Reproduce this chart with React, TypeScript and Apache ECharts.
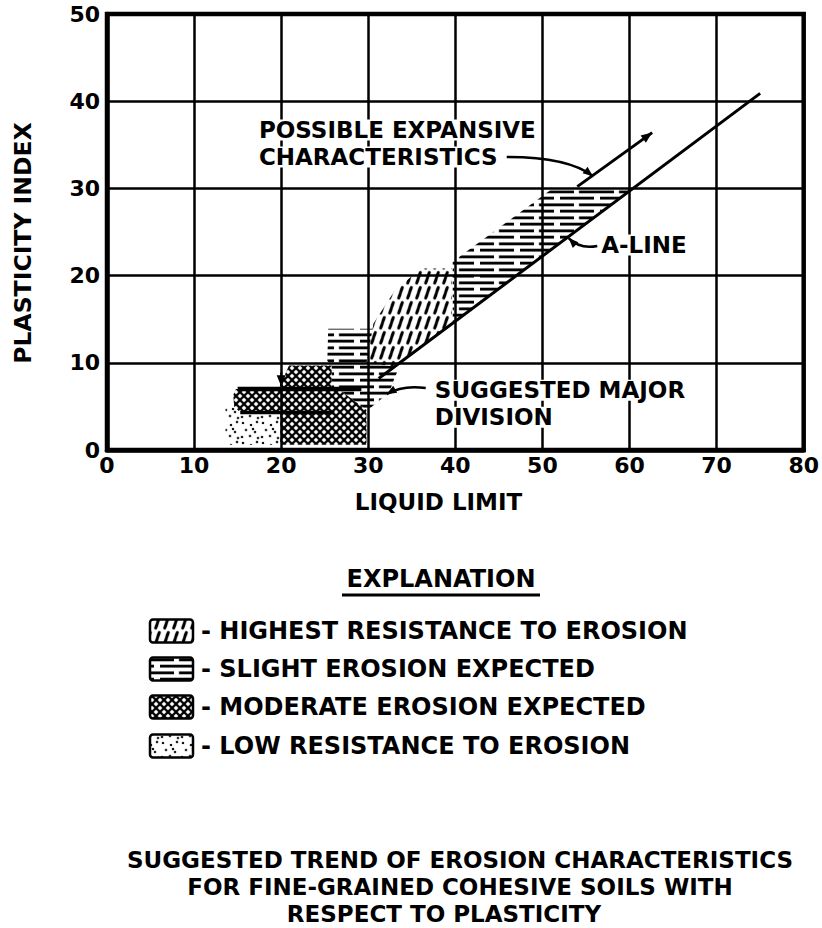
import React, { useEffect, useRef } from "react";
import * as echarts from "echarts";

type Pt = [number, number];

// ---- axes ----
const liquidLimitTicks = [0, 10, 20, 30, 40, 50, 60, 70, 80];
const plasticityIndexTicks = [0, 10, 20, 30, 40, 50];

// ---- erosion regions (Liquid Limit, Plasticity Index) ----
const highestResistanceArea: Pt[] = [[29.8, 10.0], [32.8, 9.6], [39.6, 14.5], [39.6, 20.8], [36.0, 20.8], [33.0, 18.2], [30.6, 14.5]];
const slightErosionUpperArea: Pt[] = [[39.7, 14.5], [39.7, 21.6], [50.9, 29.8], [60.0, 29.8]];
const slightErosionLowerArea: Pt[] = [[25.4, 13.9], [30.5, 13.9], [29.8, 10.0], [32.8, 9.6], [33.6, 9.6], [33.0, 8.2], [32.4, 6.6], [30.2, 4.8], [29.8, 4.6], [26.6, 7.0], [25.8, 7.0], [25.8, 9.7], [25.3, 10.2]];
const moderateErosionArea: Pt[] = [[14.8, 7.0], [19.7, 7.0], [20.9, 9.7], [25.8, 9.7], [25.8, 7.0], [26.6, 7.0], [29.8, 4.6], [29.8, 0.6], [19.9, 0.6], [19.9, 4.3], [15.3, 4.3], [14.6, 5.0], [14.5, 6.3]];
const lowResistanceArea: Pt[] = [[13.6, 0.6], [13.6, 4.9], [14.6, 5.0], [15.3, 4.3], [19.9, 4.3], [19.9, 0.6]];

// ---- lines ----
const aLine: Pt[] = [[31.2, 8.2], [75.0, 40.9]];
const expansiveTrend: Pt[] = [[54.0, 30.2], [62.6, 36.4]];
const majorDivisionUpper: Pt[] = [[15.0, 7.0], [29.2, 7.0]];
const majorDivisionLower: Pt[] = [[15.3, 4.3], [26.1, 4.3]];
const divisionPointer: Pt[] = [[20.0, 8.9], [20.0, 7.3]];

// ---- leaders: start, control, tip ----
const expansiveLeader: Pt[] = [[45.9, 33.6], [53.0, 33.6], [55.8, 31.4]];
const aLineLeader: Pt[] = [[56.3, 23.4], [54.3, 23.0], [53.0, 24.3]];
const divisionLeader: Pt[] = [[36.6, 7.1], [34.0, 7.5], [32.1, 6.4]];

// ---- annotation texts ----
const annotationTexts: { text: string; at: Pt }[] = [
  { text: "POSSIBLE EXPANSIVE", at: [17.1, 36.7] },
  { text: "CHARACTERISTICS", at: [17.1, 33.6] },
  { text: "A-LINE", at: [56.4, 23.5] },
  { text: "SUGGESTED MAJOR", at: [37.3, 6.85] },
  { text: "DIVISION", at: [37.3, 3.75] },
];

// ---- explanation / title ----
const legendLabels = [
  "HIGHEST RESISTANCE TO EROSION",
  "SLIGHT EROSION EXPECTED",
  "MODERATE EROSION EXPECTED",
  "LOW RESISTANCE TO EROSION",
];
const legendPatternKeys = ["highest", "slight", "moderate", "low"];
const titleLines = [
  "SUGGESTED TREND OF EROSION CHARACTERISTICS",
  "FOR FINE-GRAINED COHESIVE SOILS WITH",
  "RESPECT TO PLASTICITY",
];

const FONT = "'DejaVu Sans', 'Liberation Sans', sans-serif";

function makePatterns() {
  const tile = (w: number, h: number, draw: (ctx: CanvasRenderingContext2D) => void) => {
    const s = 3;
    const c = document.createElement("canvas");
    c.width = w * s;
    c.height = h * s;
    const ctx = c.getContext("2d")!;
    ctx.scale(s, s);
    ctx.strokeStyle = "#000";
    ctx.fillStyle = "#000";
    draw(ctx);
    return { image: c.toDataURL(), repeat: "repeat", imageWidth: w, imageHeight: h };
  };
  const seg = (ctx: CanvasRenderingContext2D, a: number, b: number, c: number, d: number) => {
    ctx.beginPath();
    ctx.moveTo(a, b);
    ctx.lineTo(c, d);
    ctx.stroke();
  };
  return {
    highest: tile(9, 15, (ctx) => {
      ctx.lineWidth = 2.9;
      ctx.lineCap = "round";
      seg(ctx, 2.8, 13.0, 6.2, 2.6);
    }),
    slight: tile(40, 13, (ctx) => {
      ctx.lineWidth = 2.6;
      seg(ctx, 0, 3.25, 34, 3.25);
      seg(ctx, 0, 9.75, 14, 9.75);
      seg(ctx, 19, 9.75, 40, 9.75);
    }),
    moderate: tile(8, 8, (ctx) => {
      ctx.lineWidth = 2.3;
      for (const dx of [-8, 0, 8]) {
        seg(ctx, dx, 0, dx + 8, 8);
        seg(ctx, dx + 8, 0, dx, 8);
      }
    }),
    low: tile(20, 20, (ctx) => {
      const dots = [[3, 3], [11, 5], [17, 2], [6, 10], [15, 12], [2, 17], [10, 16], [18, 18], [13, 9]];
      for (const [x, y] of dots) {
        ctx.beginPath();
        ctx.arc(x, y, 1.2, 0, Math.PI * 2);
        ctx.fill();
      }
    }),
  } as Record<string, any>;
}

function arrowHead(tip: number[], from: number[], len: number, half: number) {
  const dx = tip[0] - from[0];
  const dy = tip[1] - from[1];
  const l = Math.hypot(dx, dy) || 1;
  const ux = dx / l;
  const uy = dy / l;
  const bx = tip[0] - ux * len;
  const by = tip[1] - uy * len;
  return [
    [tip[0], tip[1]],
    [bx - uy * half, by + ux * half],
    [bx + uy * half, by - ux * half],
  ];
}

export default function App() {
  const ref = useRef<HTMLDivElement>(null);

  useEffect(() => {
    document.body.style.margin = "0";
    if (!ref.current) return;
    const chart = echarts.init(ref.current, null, { renderer: "svg" });
    const patterns = makePatterns();

    const regions = [
      { key: "highest", points: highestResistanceArea },
      { key: "slight", points: slightErosionUpperArea },
      { key: "slight", points: slightErosionLowerArea },
      { key: "moderate", points: moderateErosionArea },
      { key: "low", points: lowResistanceArea },
    ];
    const lineSpecs = [
      { points: aLine, width: 3, arrow: false },
      { points: expansiveTrend, width: 3, arrow: true },
      { points: majorDivisionUpper, width: 4.5, arrow: false },
      { points: majorDivisionLower, width: 3.5, arrow: false },
      { points: divisionPointer, width: 2, arrow: true },
    ];
    const leaders = [expansiveLeader, aLineLeader, divisionLeader];

    const legendRowY = [631, 669, 707, 746];
    const titleX = [460, 460, 444];
    const titleY = [860, 887, 914];

    const txt = (text: string, x: number, y: number, size: number, align: string, extra: any = {}) => ({
      type: "text",
      x,
      y,
      ...extra,
      style: {
        text,
        font: `bold ${size}px ${FONT}`,
        fill: "#000",
        align,
        verticalAlign: "middle",
        textAlign: align,
        textVerticalAlign: "middle",
        lineHeight: 20,
      },
    });

    const graphic: any[] = [
      txt("PLASTICITY INDEX", 22.5, 243, 23.5, "center", { rotation: Math.PI / 2 }),
      txt("LIQUID LIMIT", 438.5, 502, 23, "center"),
      txt("EXPLANATION", 441, 579, 24, "center"),
      { type: "line", shape: { x1: 342, y1: 595, x2: 540, y2: 595 }, style: { stroke: "#000", lineWidth: 3 } },
    ];
    legendLabels.forEach((label, i) => {
      const cy = legendRowY[i];
      graphic.push({
        type: "rect",
        shape: { x: 150, y: cy - 11.5, width: 43, height: 23, r: 3 },
        style: { fill: patterns[legendPatternKeys[i]], stroke: "#000", lineWidth: 2.5 },
      });
      graphic.push(txt("- " + label, 201, cy, 24, "left"));
    });
    titleLines.forEach((t, i) => {
      graphic.push(txt(t, titleX[i], titleY[i], 23, "center"));
    });

    const axisCommon = {
      type: "value",
      axisLine: { show: true, lineStyle: { color: "#000", width: 4.5 } },
      axisTick: { show: false },
      splitLine: { show: true, lineStyle: { color: "#000", width: 2.5 } },
    };

    chart.setOption({
      animation: false,
      backgroundColor: "#fff",
      grid: { left: 107, right: 14, top: 14, bottom: 478, show: true, borderColor: "#000", borderWidth: 4.5 },
      xAxis: {
        ...axisCommon,
        min: liquidLimitTicks[0],
        max: liquidLimitTicks[liquidLimitTicks.length - 1],
        interval: liquidLimitTicks[1] - liquidLimitTicks[0],
        axisLabel: { color: "#000", fontFamily: FONT, fontWeight: "bold", fontSize: 22, margin: 4 },
      },
      yAxis: {
        ...axisCommon,
        min: plasticityIndexTicks[0],
        max: plasticityIndexTicks[plasticityIndexTicks.length - 1],
        interval: plasticityIndexTicks[1] - plasticityIndexTicks[0],
        axisLabel: { color: "#000", fontFamily: FONT, fontWeight: "bold", fontSize: 22, margin: 7, padding: [4, 0, 0, 0] },
      },
      graphic,
      series: [
        {
          type: "custom",
          name: "regions",
          z: 2,
          data: regions.map((_, i) => [i]),
          renderItem: (params: any, api: any) => {
            const r = regions[api.value(0)];
            return {
              type: "polygon",
              shape: { points: r.points.map((p) => api.coord(p)) },
              style: { fill: patterns[r.key], stroke: null },
            };
          },
        },
        {
          type: "custom",
          name: "lines",
          z: 3,
          data: lineSpecs.map((_, i) => [i]),
          renderItem: (params: any, api: any) => {
            const spec = lineSpecs[api.value(0)];
            const pts = spec.points.map((p) => api.coord(p));
            const children: any[] = [
              { type: "polyline", shape: { points: pts }, style: { stroke: "#000", lineWidth: spec.width, fill: null } },
            ];
            if (spec.arrow) {
              const n = pts.length;
              children.push({
                type: "polygon",
                shape: { points: arrowHead(pts[n - 1], pts[n - 2], 11, 4.5) },
                style: { fill: "#000" },
              });
            }
            return { type: "group", children };
          },
        },
        {
          type: "custom",
          name: "leaders",
          z: 4,
          data: leaders.map((_, i) => [i]),
          renderItem: (params: any, api: any) => {
            const [s, c, t] = leaders[api.value(0)].map((p) => api.coord(p));
            return {
              type: "group",
              children: [
                {
                  type: "bezierCurve",
                  shape: { x1: s[0], y1: s[1], cpx1: c[0], cpy1: c[1], x2: t[0], y2: t[1] },
                  style: { stroke: "#000", lineWidth: 2.5, fill: null },
                },
                { type: "polygon", shape: { points: arrowHead(t, c, 10, 4) }, style: { fill: "#000" } },
              ],
            };
          },
        },
        {
          type: "custom",
          name: "annotations",
          z: 5,
          data: annotationTexts.map((_, i) => [i]),
          renderItem: (params: any, api: any) => {
            const a = annotationTexts[api.value(0)];
            const p = api.coord(a.at);
            return {
              type: "text",
              x: p[0],
              y: p[1],
              style: {
                text: a.text,
                font: `bold 23px ${FONT}`,
                fill: "#000",
                align: "left",
                verticalAlign: "middle",
                textAlign: "left",
                textVerticalAlign: "middle",
                lineHeight: 20,
                backgroundColor: "#fff",
                padding: [1, 3, 0, 3],
              },
            };
          },
        },
      ],
    });

    return () => chart.dispose();
  }, []);

  return <div ref={ref} style={{ width: 822, height: 928 }} />;
}
